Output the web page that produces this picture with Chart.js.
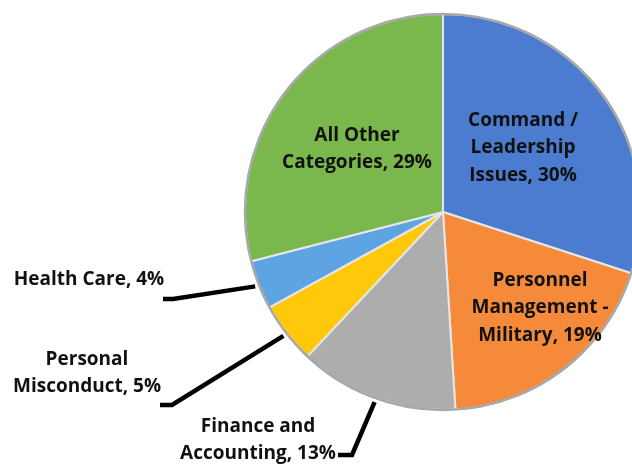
<!DOCTYPE html>
<html>
<head>
<meta charset="utf-8">
<script src="https://cdn.jsdelivr.net/npm/chart.js@4"></script>
<style>
html,body{margin:0;padding:0;background:#fff;overflow:hidden;width:632px;height:464px;}
canvas{display:block;}
</style>
</head>
<body>
<canvas id="c" width="660" height="464"></canvas>
<script>
const categories = ["Command / Leadership Issues","Personnel Management - Military","Finance and Accounting","Personal Misconduct","Health Care","All Other Categories"];
const values = [30,19,13,5,4,29];
const labelLines = [
  ["Command /","Leadership","Issues, 30%"],
  ["Personnel","Management -","Military, 19%"],
  ["Finance and","Accounting, 13%"],
  ["Personal","Misconduct, 5%"],
  ["Health Care, 4%"],
  ["All Other","Categories, 29%"]
];
const colors = ["#4b7cd0","#f68a3b","#adadad","#ffc80a","#5ea4e2","#7ab74d"];

// label placement (offsets from pie centre, px)
const labelLayout = [
  {type:"in", dx:80, dy:-64},
  {type:"in", dx:97, dy:96},
  {type:"out", dx:-185, dy:228, sx:-105, sy:243, ex:-91, ey:243},
  {type:"out", dx:-356, dy:161, sx:-283, sy:193, ex:-271, ey:193},
  {type:"out", dx:-354, dy:68, sx:-280, sy:87, ex:-270, ey:87},
  {type:"in", dx:-86, dy:-63}
];

const labelPlugin = {
  id:"labels",
  afterDatasetsDraw(chart){
    const ctx = chart.ctx;
    const meta = chart.getDatasetMeta(0);
    const arcs = meta.data;
    const cx = arcs[0].x, cy = arcs[0].y, R = arcs[0].outerRadius;
    // outer rim
    ctx.save();
    ctx.beginPath();
    ctx.arc(cx, cy, R, 0, Math.PI*2);
    ctx.strokeStyle = "#a8a8a8";
    ctx.lineWidth = 2.5;
    ctx.stroke();
    ctx.restore();
    ctx.save();
    ctx.font = "bold 19px 'Open Sans', sans-serif";
    ctx.fillStyle = "#111";
    ctx.textAlign = "center";
    ctx.textBaseline = "middle";
    const lh = 27.5;
    arcs.forEach((arc, i) => {
      const L = labelLayout[i];
      const lines = labelLines[i];
      if (L.type === "out") {
        const mid = (arc.startAngle + arc.endAngle)/2;
        const px = cx + Math.cos(mid)*(R+4);
        const py = cy + Math.sin(mid)*(R+4);
        ctx.beginPath();
        ctx.moveTo(cx+L.sx, cy+L.sy);
        ctx.lineTo(cx+L.ex, cy+L.ey);
        ctx.lineTo(px, py);
        ctx.strokeStyle = "#000";
        ctx.lineWidth = 4.5;
        ctx.lineJoin = "miter";
        ctx.stroke();
      }
      const x = cx + L.dx, y0 = cy + L.dy - (lines.length-1)*lh/2;
      lines.forEach((t, k) => ctx.fillText(t, x, y0 + k*lh));
    });
    ctx.restore();
  }
};

new Chart(document.getElementById("c"), {
  type:"pie",
  data:{
    labels:categories,
    datasets:[{
      data:values,
      backgroundColor:colors,
      borderColor:"#e6e6e6",
      borderWidth:2
    }]
  },
  options:{
    responsive:false,
    animation:false,
    layout:{padding:{left:244, right:18, top:13, bottom:53}},
    plugins:{legend:{display:false}, tooltip:{enabled:false}}
  },
  plugins:[labelPlugin]
});
</script>
</body>
</html>
